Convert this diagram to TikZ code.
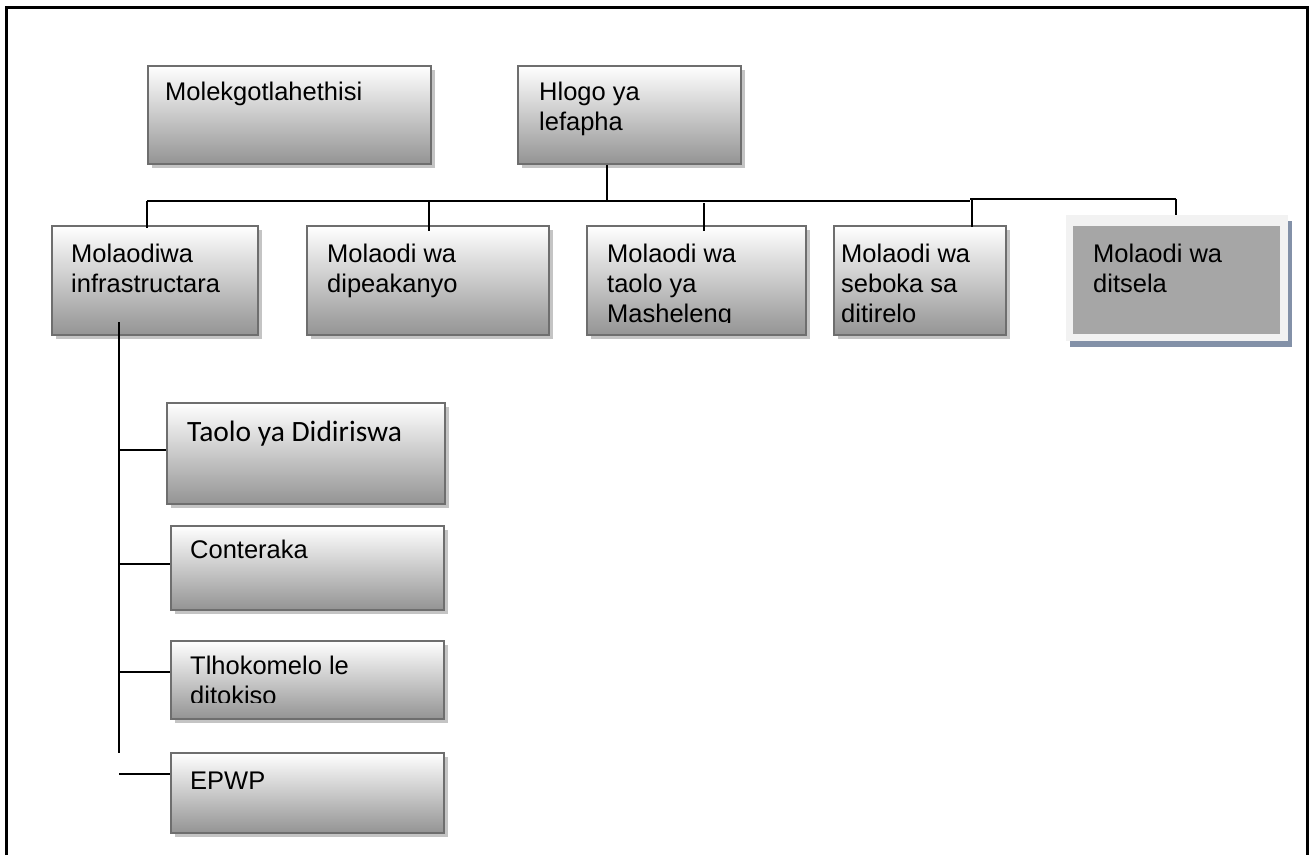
\documentclass[tikz,border=0pt]{standalone}
\usepackage{fontspec}
\setmainfont{Liberation Sans}
\newfontfamily\calib{Carlito}
\usetikzlibrary{shadows}
\newcommand\tophs{\rule{0pt}{24pt}}
\definecolor{bordergray}{HTML}{6E6E6E}
\definecolor{shadgray}{HTML}{C4C4C4}
\definecolor{slate}{HTML}{8391A8}
\definecolor{lightfr}{HTML}{F2F2F2}
\definecolor{midgray}{HTML}{A6A6A6}
\begin{document}
\begin{tikzpicture}[x=1pt,y=-1pt,
  box/.style={draw=bordergray, line width=1.6pt, top color=white, bottom color=black!42,
    anchor=north west, inner sep=0pt,
    general shadow={fill=shadgray, shadow xshift=4pt, shadow yshift=-4pt}},
  txt/.style={font=\fontsize{25.5}{30}\selectfont, align=left, inner sep=0pt, anchor=north west},
  ctxt/.style={font=\calib\fontsize{29.5}{34}\selectfont, align=left, inner sep=0pt, anchor=north west},
  conn/.style={line width=1.6pt, black}]
\useasboundingbox (0,0) rectangle (1311,855);
% outer frame (open at bottom)
\draw[line width=3pt] (6,855) -- (6,7) -- (1307,7) -- (1307,855);

% top row
\node[box, minimum width=283pt, minimum height=98pt] (mk) at (147,65) {};
\node[txt] (mkt) at (165,76) {\tophs Molekgotlahethisi};
\node[box, minimum width=223pt, minimum height=98pt] (hl) at (517,65) {};
\node[txt] (hlt) at (539,76) {\tophs Hlogo ya\\lefapha};

% second row
\node[box, minimum width=206pt, minimum height=109pt] (b1) at (51,225) {};
\node[txt] (b1t) at (71,238) {\tophs Molaodiwa\\infrastructara};
\node[box, minimum width=242pt, minimum height=109pt] (b2) at (306,225) {};
\node[txt] (b2t) at (327,238) {\tophs Molaodi wa\\dipeakanyo};
\node[box, minimum width=219pt, minimum height=109pt] (b3) at (586,225) {};
\begin{scope}
\clip (586,226) rectangle (805,322);
\node[txt] (b3t) at (607,238) {\tophs Molaodi wa\\taolo ya\\Masheleng};
\end{scope}
\node[box, minimum width=172pt, minimum height=109pt] (b4) at (833,225) {};
\begin{scope}
\clip (833,226) rectangle (1005,322);
\node[txt] (b4t) at (841,238) {\tophs Molaodi wa\\seboka sa\\ditirelo};
\end{scope}
\node[anchor=north west, inner sep=0pt, minimum width=222pt, minimum height=126pt, fill=lightfr,
  general shadow={fill=slate, shadow xshift=4pt, shadow yshift=-6pt}] (b5) at (1066,215) {};
\node[anchor=north west, inner sep=0pt, minimum width=207pt, minimum height=108pt, fill=midgray] (b5in) at (1073,226) {};
\node[txt] (b5t) at (1093,238) {\tophs Molaodi wa\\ditsela};

% sub boxes
\node[box, minimum width=278pt, minimum height=101pt] (s1) at (166,402) {};
\node[ctxt] (s1t) at (187,417) {\tophs Taolo ya Didiriswa};
\node[box, minimum width=273pt, minimum height=84pt] (s2) at (170,525) {};
\node[txt] (s2t) at (190,534) {\tophs Conteraka};
\node[box, minimum width=273pt, minimum height=78pt] (s3) at (170,640) {};
\begin{scope}
\clip (170,641) rectangle (443,702);
\node[txt] (s3t) at (190,650) {\tophs Tlhokomelo le\\ditokiso};
\end{scope}
\node[box, minimum width=273pt, minimum height=80pt] (s4) at (170,752) {};
\node[txt] (s4t) at (190,765) {\tophs EPWP};

% connectors
\coordinate (busL) at (147,201);
\coordinate (busM) at (970,201);
\coordinate (busM2) at (970,199);
\coordinate (busR) at (1176,199);
\coordinate (hlj) at (607,201);
\coordinate (j2) at (429,201);
\coordinate (j3) at (704,203);
\coordinate (j4) at (972,199);
\draw[conn] (busL) -- (busM);
\draw[conn] (busM2) -- (busR);
\draw[conn] (hlj |- hl.south) -- (hlj);
\draw[conn] (busL) -- ([yshift=-3pt]busL |- b1.north);
\draw[conn] (j2) -- ([yshift=-6pt]j2 |- b2.north);
\draw[conn] (j3) -- ([yshift=-6pt]j3 |- b3.north);
\draw[conn] (j4) -- ([yshift=-2pt]j4 |- b4.north);
\draw[conn] (busR) -- (busR |- b5.north);

\coordinate (vt) at (119,322);
\coordinate (vb) at (119,753);
\draw[conn] (vt) -- (vb);
\coordinate (k1) at (119,450);
\coordinate (k2) at (119,564);
\coordinate (k3) at (119,672);
\coordinate (k4) at (119,774);
\draw[conn] (k1) -- (k1 -| s1.west);
\draw[conn] (k2) -- (k2 -| s2.west);
\draw[conn] (k3) -- (k3 -| s3.west);
\draw[conn] (k4) -- (k4 -| s4.west);
\end{tikzpicture}
\end{document}
